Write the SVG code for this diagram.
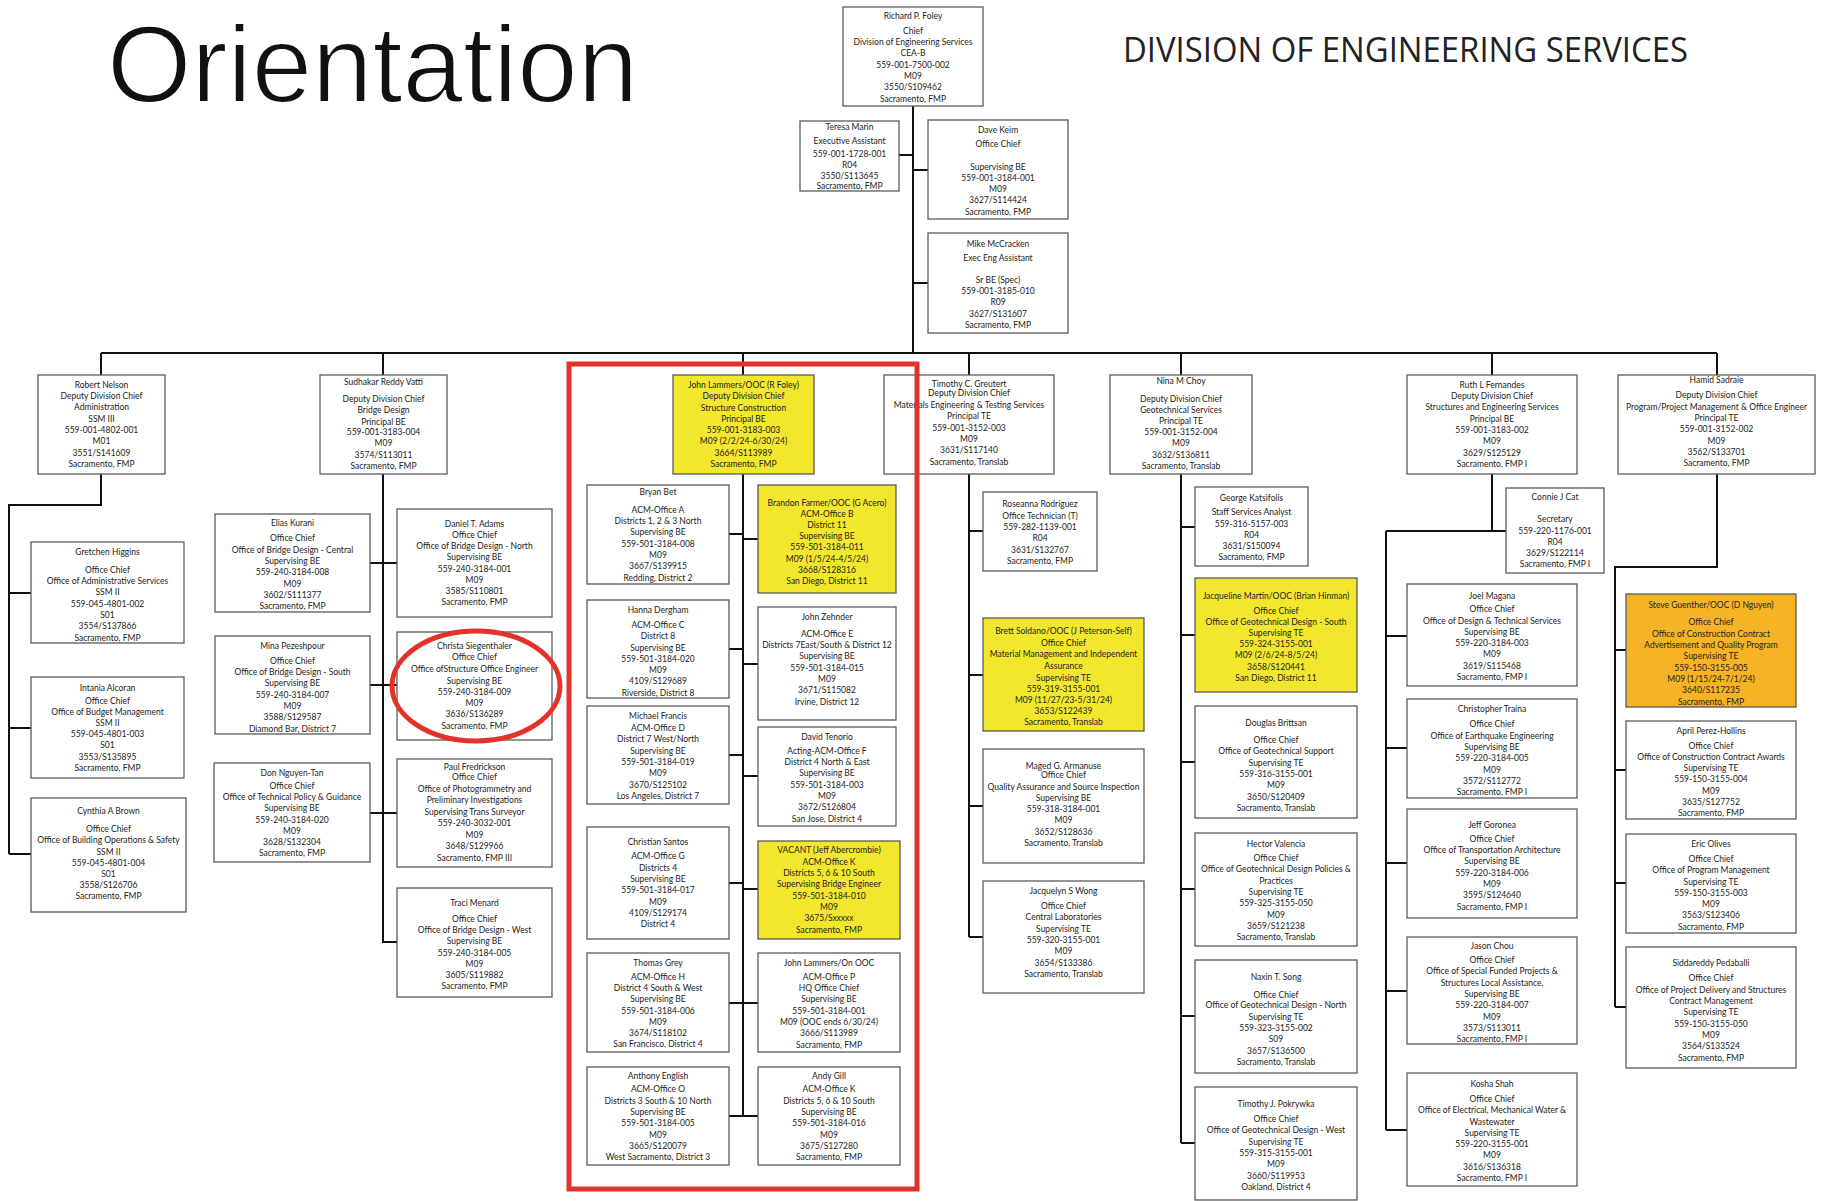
<svg xmlns="http://www.w3.org/2000/svg" width="1825" height="1201" viewBox="0 0 1825 1201">
<style>
.box{fill:#fff;stroke:#5a5a5a;stroke-width:1.3}
.y{fill:#f2e72c}
.o{fill:#f5b326}
.t{font-family:Lato,"Liberation Sans",sans-serif;font-size:8.5px;fill:#222;text-anchor:middle}
.conn{fill:none;stroke:#111;stroke-width:2}
.red{fill:none;stroke:#e3322a;stroke-width:5}
</style>
<rect width="1825" height="1201" fill="#fff"/>
<text x="107" y="102" font-family="'Liberation Sans',Arial,sans-serif" font-size="110" textLength="531" lengthAdjust="spacingAndGlyphs" fill="#111" stroke="#fff" stroke-width="2">Orientation</text>
<text x="1123" y="62" font-family="'Open Sans',Lato,sans-serif" font-size="35" textLength="565" lengthAdjust="spacingAndGlyphs" fill="#222">DIVISION OF ENGINEERING SERVICES</text>

<g id="connectors">
<path class="conn" d="M913 106V353M899 155H913M913 170H928M913 283H928M101 353H1717M101 353V375M383 353V375M743 353V375M969 353V375M1181 353V375M1492 353V375M1717 353V375
M101 474V505H9V854M9 593H31M9 728H31M9 854H31
M383 474V942H397M370 563H397M370 685H397M370 813H397
M743 474V1116M729 534H743M743 539H758M729 649H743M743 664H758M729 755H743M743 776H758M729 883H743M743 889H758M729 1003H758M729 1116H758
M969 474V937M969 531H983M969 675H983M969 806H983M969 937H983
M1181 474V1143M1181 527H1195M1181 635H1195M1181 762H1195M1181 889H1195M1181 1016H1195M1181 1143H1195
M1492 474V531M1386 531H1506M1386 531V1130M1386 636H1407M1386 748H1407M1386 863H1407M1386 991H1407M1386 1130H1407
M1717 474V567H1615V1007M1615 650H1626M1615 770H1626M1615 883H1626M1615 1007H1626"/>
</g>

<g id="n-foley"><rect class="box" x="843" y="7" width="140" height="99"/><text class="t"><tspan x="913" y="19">Richard P. Foley</tspan><tspan x="913" y="34">Chief</tspan><tspan x="913" y="45">Division of Engineering Services</tspan><tspan x="913" y="56">CEA-B</tspan><tspan x="913" y="68">559-001-7500-002</tspan><tspan x="913" y="79">M09</tspan><tspan x="913" y="90">3550/S109462</tspan><tspan x="913" y="102">Sacramento, FMP</tspan></text></g>
<g id="n-marin"><rect class="box" x="800" y="121" width="99" height="70"/><text class="t"><tspan x="849.5" y="130">Teresa Marin</tspan><tspan x="849.5" y="144">Executive Assistant</tspan><tspan x="849.5" y="157">559-001-1728-001</tspan><tspan x="849.5" y="168">R04</tspan><tspan x="849.5" y="179">3550/S113645</tspan><tspan x="849.5" y="189">Sacramento, FMP</tspan></text></g>
<g id="n-keim"><rect class="box" x="928" y="120" width="140" height="99"/><text class="t"><tspan x="998" y="133">Dave Keim</tspan><tspan x="998" y="147">Office Chief</tspan><tspan x="998" y="170">Supervising BE</tspan><tspan x="998" y="181">559-001-3184-001</tspan><tspan x="998" y="192">M09</tspan><tspan x="998" y="203">3627/S114424</tspan><tspan x="998" y="215">Sacramento, FMP</tspan></text></g>
<g id="n-mccracken"><rect class="box" x="928" y="233" width="140" height="100"/><text class="t"><tspan x="998" y="247">Mike McCracken</tspan><tspan x="998" y="261">Exec Eng Assistant</tspan><tspan x="998" y="283">Sr BE (Spec)</tspan><tspan x="998" y="294">559-001-3185-010</tspan><tspan x="998" y="305">R09</tspan><tspan x="998" y="317">3627/S131607</tspan><tspan x="998" y="328">Sacramento, FMP</tspan></text></g>

<g id="n-nelson"><rect class="box" x="38" y="375" width="127" height="99"/><text class="t"><tspan x="101.5" y="388">Robert Nelson</tspan><tspan x="101.5" y="399">Deputy Division Chief</tspan><tspan x="101.5" y="410">Administration</tspan><tspan x="101.5" y="422">SSM III</tspan><tspan x="101.5" y="433">559-001-4802-001</tspan><tspan x="101.5" y="444">M01</tspan><tspan x="101.5" y="456">3551/S141609</tspan><tspan x="101.5" y="467">Sacramento, FMP</tspan></text></g>
<g id="n-vatti"><rect class="box" x="320" y="375" width="127" height="99"/><text class="t"><tspan x="383.5" y="385">Sudhakar Reddy Vatti</tspan><tspan x="383.5" y="402">Deputy Division Chief</tspan><tspan x="383.5" y="413">Bridge Design</tspan><tspan x="383.5" y="425">Principal BE</tspan><tspan x="383.5" y="435">559-001-3183-004</tspan><tspan x="383.5" y="446">M09</tspan><tspan x="383.5" y="458">3574/S113011</tspan><tspan x="383.5" y="469">Sacramento, FMP</tspan></text></g>
<g id="n-lammers"><rect class="box y" x="673" y="375" width="141" height="99"/><text class="t"><tspan x="743.5" y="388">John Lammers/OOC (R Foley)</tspan><tspan x="743.5" y="399">Deputy Division Chief</tspan><tspan x="743.5" y="411">Structure Construction</tspan><tspan x="743.5" y="422">Principal BE</tspan><tspan x="743.5" y="433">559-001-3183-003</tspan><tspan x="743.5" y="444">M09 (2/2/24-6/30/24)</tspan><tspan x="743.5" y="456">3664/S113989</tspan><tspan x="743.5" y="467">Sacramento, FMP</tspan></text></g>
<g id="n-greutert"><rect class="box" x="884" y="375" width="170" height="99"/><text class="t"><tspan x="969" y="387">Timothy C. Greutert</tspan><tspan x="969" y="396">Deputy Division Chief</tspan><tspan x="969" y="408">Materials Engineering &amp; Testing Services</tspan><tspan x="969" y="419">Principal TE</tspan><tspan x="969" y="431">559-001-3152-003</tspan><tspan x="969" y="442">M09</tspan><tspan x="969" y="453">3631/S117140</tspan><tspan x="969" y="465">Sacramento, Translab</tspan></text></g>
<g id="n-choy"><rect class="box" x="1110" y="375" width="142" height="99"/><text class="t"><tspan x="1181" y="384">Nina M Choy</tspan><tspan x="1181" y="402">Deputy Division Chief</tspan><tspan x="1181" y="413">Geotechnical Services</tspan><tspan x="1181" y="424">Principal TE</tspan><tspan x="1181" y="435">559-001-3152-004</tspan><tspan x="1181" y="446">M09</tspan><tspan x="1181" y="458">3632/S136811</tspan><tspan x="1181" y="469">Sacramento, Translab</tspan></text></g>
<g id="n-fernandes"><rect class="box" x="1407" y="375" width="170" height="99"/><text class="t"><tspan x="1492" y="388">Ruth L Fernandes</tspan><tspan x="1492" y="399">Deputy Division Chief</tspan><tspan x="1492" y="410">Structures and Engineering Services</tspan><tspan x="1492" y="422">Principal BE</tspan><tspan x="1492" y="433">559-001-3183-002</tspan><tspan x="1492" y="444">M09</tspan><tspan x="1492" y="456">3629/S125129</tspan><tspan x="1492" y="467">Sacramento, FMP I</tspan></text></g>
<g id="n-sadraie"><rect class="box" x="1618" y="375" width="197" height="99"/><text class="t"><tspan x="1716.5" y="383">Hamid Sadraie</tspan><tspan x="1716.5" y="398">Deputy Division Chief</tspan><tspan x="1716.5" y="410">Program/Project Management &amp;  Office Engineer</tspan><tspan x="1716.5" y="421">Principal TE</tspan><tspan x="1716.5" y="432">559-001-3152-002</tspan><tspan x="1716.5" y="444">M09</tspan><tspan x="1716.5" y="455">3562/S133701</tspan><tspan x="1716.5" y="466">Sacramento, FMP</tspan></text></g>

<g id="n-higgins"><rect class="box" x="31" y="542" width="153" height="101"/><text class="t"><tspan x="107.5" y="555">Gretchen Higgins</tspan><tspan x="107.5" y="573">Office Chief</tspan><tspan x="107.5" y="584">Office of Administrative Services</tspan><tspan x="107.5" y="595">SSM II</tspan><tspan x="107.5" y="607">559-045-4801-002</tspan><tspan x="107.5" y="618">S01</tspan><tspan x="107.5" y="629">3554/S137866</tspan><tspan x="107.5" y="641">Sacramento, FMP</tspan></text></g>
<g id="n-alcoran"><rect class="box" x="31" y="677" width="153" height="101"/><text class="t"><tspan x="107.5" y="691">Intania Alcoran</tspan><tspan x="107.5" y="704">Office Chief</tspan><tspan x="107.5" y="715">Office of Budget Management</tspan><tspan x="107.5" y="726">SSM II</tspan><tspan x="107.5" y="737">559-045-4801-003</tspan><tspan x="107.5" y="748">S01</tspan><tspan x="107.5" y="760">3553/S135895</tspan><tspan x="107.5" y="771">Sacramento, FMP</tspan></text></g>
<g id="n-brown"><rect class="box" x="31" y="798" width="155" height="114"/><text class="t"><tspan x="108.5" y="814">Cynthia A Brown</tspan><tspan x="108.5" y="832">Office Chief</tspan><tspan x="108.5" y="843">Office of Building Operations &amp; Safety</tspan><tspan x="108.5" y="855">SSM II</tspan><tspan x="108.5" y="866">559-045-4801-004</tspan><tspan x="108.5" y="877">S01</tspan><tspan x="108.5" y="888">3558/S126706</tspan><tspan x="108.5" y="899">Sacramento, FMP</tspan></text></g>

<g id="n-kurani"><rect class="box" x="215" y="514" width="155" height="98"/><text class="t"><tspan x="292.5" y="526">Elias  Kurani</tspan><tspan x="292.5" y="541">Office Chief</tspan><tspan x="292.5" y="553">Office of Bridge Design - Central</tspan><tspan x="292.5" y="564">Supervising BE</tspan><tspan x="292.5" y="575">559-240-3184-008</tspan><tspan x="292.5" y="587">M09</tspan><tspan x="292.5" y="598">3602/S111377</tspan><tspan x="292.5" y="609">Sacramento, FMP</tspan></text></g>
<g id="n-pezeshpour"><rect class="box" x="215" y="636" width="155" height="98"/><text class="t"><tspan x="292.5" y="649">Mina Pezeshpour</tspan><tspan x="292.5" y="664">Office Chief</tspan><tspan x="292.5" y="675">Office of Bridge Design - South</tspan><tspan x="292.5" y="686">Supervising BE</tspan><tspan x="292.5" y="698">559-240-3184-007</tspan><tspan x="292.5" y="709">M09</tspan><tspan x="292.5" y="720">3588/S129587</tspan><tspan x="292.5" y="732">Diamond Bar, District 7</tspan></text></g>
<g id="n-nguyentan"><rect class="box" x="214" y="763" width="156" height="99"/><text class="t"><tspan x="292" y="776">Don Nguyen-Tan</tspan><tspan x="292" y="789">Office Chief</tspan><tspan x="292" y="800">Office of Technical Policy &amp; Guidance</tspan><tspan x="292" y="811">Supervising BE</tspan><tspan x="292" y="823">559-240-3184-020</tspan><tspan x="292" y="834">M09</tspan><tspan x="292" y="845">3628/S132304</tspan><tspan x="292" y="856">Sacramento, FMP</tspan></text></g>
<g id="n-adams"><rect class="box" x="397" y="509" width="155" height="108"/><text class="t"><tspan x="474.5" y="527">Daniel T. Adams</tspan><tspan x="474.5" y="538">Office Chief</tspan><tspan x="474.5" y="549">Office of Bridge Design - North</tspan><tspan x="474.5" y="560">Supervising BE</tspan><tspan x="474.5" y="572">559-240-3184-001</tspan><tspan x="474.5" y="583">M09</tspan><tspan x="474.5" y="594">3585/S110801</tspan><tspan x="474.5" y="605">Sacramento, FMP</tspan></text></g>
<g id="n-siegenthaler"><rect class="box" x="397" y="632" width="155" height="108"/><text class="t"><tspan x="474.5" y="649">Christa Siegenthaler</tspan><tspan x="474.5" y="660">Office Chief</tspan><tspan x="474.5" y="672">Office ofStructure Office Engineer</tspan><tspan x="474.5" y="684">Supervising BE</tspan><tspan x="474.5" y="695">559-240-3184-009</tspan><tspan x="474.5" y="706">M09</tspan><tspan x="474.5" y="717">3636/S136289</tspan><tspan x="474.5" y="729">Sacramento, FMP</tspan></text></g>
<g id="n-fredrickson"><rect class="box" x="397" y="759" width="155" height="108"/><text class="t"><tspan x="474.5" y="770">Paul Fredrickson</tspan><tspan x="474.5" y="780">Office Chief</tspan><tspan x="474.5" y="792">Office of Photogrammetry and</tspan><tspan x="474.5" y="803">Preliminary Investigations</tspan><tspan x="474.5" y="815">Supervising Trans Surveyor</tspan><tspan x="474.5" y="826">559-240-3032-001</tspan><tspan x="474.5" y="838">M09</tspan><tspan x="474.5" y="849">3648/S129966</tspan><tspan x="474.5" y="861">Sacramento, FMP III</tspan></text></g>
<g id="n-menard"><rect class="box" x="397" y="888" width="155" height="109"/><text class="t"><tspan x="474.5" y="906">Traci Menard</tspan><tspan x="474.5" y="922">Office Chief</tspan><tspan x="474.5" y="933">Office of Bridge Design - West</tspan><tspan x="474.5" y="944">Supervising BE</tspan><tspan x="474.5" y="956">559-240-3184-005</tspan><tspan x="474.5" y="967">M09</tspan><tspan x="474.5" y="978">3605/S119882</tspan><tspan x="474.5" y="989">Sacramento, FMP</tspan></text></g>

<g id="n-bet"><rect class="box" x="587" y="485" width="142" height="99"/><text class="t"><tspan x="658" y="495">Bryan Bet</tspan><tspan x="658" y="513">ACM-Office A</tspan><tspan x="658" y="524">Districts 1, 2 &amp; 3 North</tspan><tspan x="658" y="535">Supervising BE</tspan><tspan x="658" y="547">559-501-3184-008</tspan><tspan x="658" y="558">M09</tspan><tspan x="658" y="569">3667/S139915</tspan><tspan x="658" y="581">Redding, District 2</tspan></text></g>
<g id="n-farmer"><rect class="box y" x="758" y="485" width="138" height="108"/><text class="t"><tspan x="827" y="506">Brandon Farmer/OOC (G Acero)</tspan><tspan x="827" y="517">ACM-Office B</tspan><tspan x="827" y="528">District 11</tspan><tspan x="827" y="539">Supervising BE</tspan><tspan x="827" y="550">559-501-3184-011</tspan><tspan x="827" y="562">M09 (1/5/24-4/5/24)</tspan><tspan x="827" y="573">3668/S128316</tspan><tspan x="827" y="584">San Diego, District 11</tspan></text></g>
<g id="n-dergham"><rect class="box" x="587" y="600" width="142" height="98"/><text class="t"><tspan x="658" y="613">Hanna Dergham</tspan><tspan x="658" y="628">ACM-Office C</tspan><tspan x="658" y="639">District 8</tspan><tspan x="658" y="651">Supervising BE</tspan><tspan x="658" y="662">559-501-3184-020</tspan><tspan x="658" y="673">M09</tspan><tspan x="658" y="684">4109/S129689</tspan><tspan x="658" y="696">Riverside, District 8</tspan></text></g>
<g id="n-zehnder"><rect class="box" x="758" y="607" width="138" height="113"/><text class="t"><tspan x="827" y="620">John Zehnder</tspan><tspan x="827" y="637">ACM-Office E</tspan><tspan x="827" y="648">Districts 7East/South &amp; District 12</tspan><tspan x="827" y="659">Supervising BE</tspan><tspan x="827" y="671">559-501-3184-015</tspan><tspan x="827" y="682">M09</tspan><tspan x="827" y="693">3671/S115082</tspan><tspan x="827" y="705">Irvine, District 12</tspan></text></g>
<g id="n-francis"><rect class="box" x="587" y="706" width="142" height="98"/><text class="t"><tspan x="658" y="719">Michael Francis</tspan><tspan x="658" y="731">ACM-Office D</tspan><tspan x="658" y="742">District 7 West/North</tspan><tspan x="658" y="754">Supervising BE</tspan><tspan x="658" y="765">559-501-3184-019</tspan><tspan x="658" y="776">M09</tspan><tspan x="658" y="788">3670/S125102</tspan><tspan x="658" y="799">Los Angeles, District 7</tspan></text></g>
<g id="n-tenorio"><rect class="box" x="758" y="727" width="138" height="99"/><text class="t"><tspan x="827" y="740">David Tenorio</tspan><tspan x="827" y="754">Acting-ACM-Office F</tspan><tspan x="827" y="765">District 4 North &amp; East</tspan><tspan x="827" y="776">Supervising BE</tspan><tspan x="827" y="788">559-501-3184-003</tspan><tspan x="827" y="799">M09</tspan><tspan x="827" y="810">3672/S126804</tspan><tspan x="827" y="822">San Jose, District 4</tspan></text></g>
<g id="n-santos"><rect class="box" x="587" y="827" width="142" height="112"/><text class="t"><tspan x="658" y="845">Christian Santos</tspan><tspan x="658" y="859">ACM-Office G</tspan><tspan x="658" y="871">Districts 4</tspan><tspan x="658" y="882">Supervising BE</tspan><tspan x="658" y="893">559-501-3184-017</tspan><tspan x="658" y="905">M09</tspan><tspan x="658" y="916">4109/S129174</tspan><tspan x="658" y="927">District 4</tspan></text></g>
<g id="n-vacant"><rect class="box y" x="758" y="841" width="142" height="98"/><text class="t"><tspan x="829" y="853">VACANT (Jeff Abercrombie)</tspan><tspan x="829" y="865">ACM-Office K</tspan><tspan x="829" y="876">Districts 5, 6 &amp; 10 South</tspan><tspan x="829" y="887">Supervising Bridge Engineer</tspan><tspan x="829" y="899">559-501-3184-010</tspan><tspan x="829" y="910">M09</tspan><tspan x="829" y="921">3675/Sxxxxx</tspan><tspan x="829" y="933">Sacramento, FMP</tspan></text></g>
<g id="n-grey"><rect class="box" x="587" y="953" width="142" height="99"/><text class="t"><tspan x="658" y="966">Thomas Grey</tspan><tspan x="658" y="980">ACM-Office H</tspan><tspan x="658" y="991">District 4 South &amp; West</tspan><tspan x="658" y="1002">Supervising BE</tspan><tspan x="658" y="1014">559-501-3184-006</tspan><tspan x="658" y="1025">M09</tspan><tspan x="658" y="1036">3674/S118102</tspan><tspan x="658" y="1047">San Francisco, District 4</tspan></text></g>
<g id="n-lammers-p"><rect class="box" x="758" y="953" width="142" height="99"/><text class="t"><tspan x="829" y="966">John Lammers/On OOC</tspan><tspan x="829" y="980">ACM-Office P</tspan><tspan x="829" y="991">HQ Office Chief</tspan><tspan x="829" y="1002">Supervising BE</tspan><tspan x="829" y="1014">559-501-3184-001</tspan><tspan x="829" y="1025">M09 (OOC ends 6/30/24)</tspan><tspan x="829" y="1036">3666/S113989</tspan><tspan x="829" y="1048">Sacramento, FMP</tspan></text></g>
<g id="n-english"><rect class="box" x="587" y="1067" width="142" height="98"/><text class="t"><tspan x="658" y="1079">Anthony English</tspan><tspan x="658" y="1092">ACM-Office O</tspan><tspan x="658" y="1104">Districts 3 South &amp; 10 North</tspan><tspan x="658" y="1115">Supervising BE</tspan><tspan x="658" y="1126">559-501-3184-005</tspan><tspan x="658" y="1138">M09</tspan><tspan x="658" y="1149">3665/S120079</tspan><tspan x="658" y="1160">West Sacramento, District 3</tspan></text></g>
<g id="n-gill"><rect class="box" x="758" y="1067" width="142" height="98"/><text class="t"><tspan x="829" y="1079">Andy Gill</tspan><tspan x="829" y="1092">ACM-Office K</tspan><tspan x="829" y="1104">Districts 5, 6 &amp; 10 South</tspan><tspan x="829" y="1115">Supervising BE</tspan><tspan x="829" y="1126">559-501-3184-016</tspan><tspan x="829" y="1138">M09</tspan><tspan x="829" y="1149">3675/S127280</tspan><tspan x="829" y="1160">Sacramento, FMP</tspan></text></g>

<g id="n-rodriguez"><rect class="box" x="983" y="492" width="114" height="79"/><text class="t"><tspan x="1040" y="507">Roseanna Rodriguez</tspan><tspan x="1040" y="519">Office Technician (T)</tspan><tspan x="1040" y="530">559-282-1139-001</tspan><tspan x="1040" y="541">R04</tspan><tspan x="1040" y="553">3631/S132767</tspan><tspan x="1040" y="564">Sacramento, FMP</tspan></text></g>
<g id="n-soldano"><rect class="box y" x="983" y="618" width="161" height="113"/><text class="t"><tspan x="1063.5" y="634">Brett Soldano/OOC (J Peterson-Self)</tspan><tspan x="1063.5" y="646">Office Chief</tspan><tspan x="1063.5" y="657">Material Management and Independent</tspan><tspan x="1063.5" y="669">Assurance</tspan><tspan x="1063.5" y="681">Supervising TE</tspan><tspan x="1063.5" y="692">559-319-3155-001</tspan><tspan x="1063.5" y="703">M09 (11/27/23-5/31/24)</tspan><tspan x="1063.5" y="714">3653/S122439</tspan><tspan x="1063.5" y="725">Sacramento, Translab</tspan></text></g>
<g id="n-armanuse"><rect class="box" x="983" y="749" width="161" height="114"/><text class="t"><tspan x="1063.5" y="769">Maged G. Armanuse</tspan><tspan x="1063.5" y="778">Office Chief</tspan><tspan x="1063.5" y="790">Quality Assurance and Source Inspection</tspan><tspan x="1063.5" y="801">Supervising BE</tspan><tspan x="1063.5" y="812">559-318-3184-001</tspan><tspan x="1063.5" y="823">M09</tspan><tspan x="1063.5" y="835">3652/S128636</tspan><tspan x="1063.5" y="846">Sacramento, Translab</tspan></text></g>
<g id="n-wong"><rect class="box" x="983" y="881" width="161" height="112"/><text class="t"><tspan x="1063.5" y="894">Jacquelyn S Wong</tspan><tspan x="1063.5" y="909">Office Chief</tspan><tspan x="1063.5" y="920">Central Laboratories</tspan><tspan x="1063.5" y="932">Supervising TE</tspan><tspan x="1063.5" y="943">559-320-3155-001</tspan><tspan x="1063.5" y="954">M09</tspan><tspan x="1063.5" y="966">3654/S133386</tspan><tspan x="1063.5" y="977">Sacramento, Translab</tspan></text></g>

<g id="n-katsifolis"><rect class="box" x="1195" y="487" width="113" height="79"/><text class="t"><tspan x="1251.5" y="501">George Katsifolis</tspan><tspan x="1251.5" y="515">Staff Services Analyst</tspan><tspan x="1251.5" y="527">559-316-5157-003</tspan><tspan x="1251.5" y="538">R04</tspan><tspan x="1251.5" y="549">3631/S150094</tspan><tspan x="1251.5" y="560">Sacramento, FMP</tspan></text></g>
<g id="n-martin"><rect class="box y" x="1195" y="578" width="162" height="114"/><text class="t"><tspan x="1276" y="599">Jacqueline Martin/OOC (Brian Hinman)</tspan><tspan x="1276" y="614">Office Chief</tspan><tspan x="1276" y="625">Office of Geotechnical Design - South</tspan><tspan x="1276" y="636">Supervising TE</tspan><tspan x="1276" y="647">559-324-3155-001</tspan><tspan x="1276" y="658">M09 (2/6/24-8/5/24)</tspan><tspan x="1276" y="670">3658/S120441</tspan><tspan x="1276" y="681">San Diego, District 11</tspan></text></g>
<g id="n-brittsan"><rect class="box" x="1195" y="706" width="162" height="112"/><text class="t"><tspan x="1276" y="726">Douglas Brittsan</tspan><tspan x="1276" y="743">Office Chief</tspan><tspan x="1276" y="754">Office of Geotechnical Support</tspan><tspan x="1276" y="766">Supervising TE</tspan><tspan x="1276" y="777">559-316-3155-001</tspan><tspan x="1276" y="788">M09</tspan><tspan x="1276" y="800">3650/S120409</tspan><tspan x="1276" y="811">Sacramento, Translab</tspan></text></g>
<g id="n-valencia"><rect class="box" x="1195" y="833" width="162" height="113"/><text class="t"><tspan x="1276" y="847">Hector Valencia</tspan><tspan x="1276" y="861">Office Chief</tspan><tspan x="1276" y="872">Office of Geotechnical Design Policies &amp;</tspan><tspan x="1276" y="884">Practices</tspan><tspan x="1276" y="895">Supervising TE</tspan><tspan x="1276" y="906">559-325-3155-050</tspan><tspan x="1276" y="918">M09</tspan><tspan x="1276" y="929">3659/S121238</tspan><tspan x="1276" y="940">Sacramento, Translab</tspan></text></g>
<g id="n-song"><rect class="box" x="1195" y="960" width="162" height="113"/><text class="t"><tspan x="1276" y="980">Naxin T. Song</tspan><tspan x="1276" y="998">Office Chief</tspan><tspan x="1276" y="1008">Office of Geotechnical Design - North</tspan><tspan x="1276" y="1020">Supervising TE</tspan><tspan x="1276" y="1031">559-323-3155-002</tspan><tspan x="1276" y="1042">S09</tspan><tspan x="1276" y="1054">3657/S136500</tspan><tspan x="1276" y="1065">Sacramento, Translab</tspan></text></g>
<g id="n-pokrywka"><rect class="box" x="1195" y="1087" width="162" height="113"/><text class="t"><tspan x="1276" y="1107">Timothy J. Pokrywka</tspan><tspan x="1276" y="1122">Office Chief</tspan><tspan x="1276" y="1133">Office of Geotechnical Design - West</tspan><tspan x="1276" y="1145">Supervising TE</tspan><tspan x="1276" y="1156">559-315-3155-001</tspan><tspan x="1276" y="1167">M09</tspan><tspan x="1276" y="1179">3660/S119953</tspan><tspan x="1276" y="1190">Oakland, District 4</tspan></text></g>

<g id="n-cat"><rect class="box" x="1506" y="488" width="98" height="85"/><text class="t"><tspan x="1555" y="500">Connie J Cat</tspan><tspan x="1555" y="522">Secretary</tspan><tspan x="1555" y="534">559-220-1176-001</tspan><tspan x="1555" y="545">R04</tspan><tspan x="1555" y="556">3629/S122114</tspan><tspan x="1555" y="567">Sacramento, FMP I</tspan></text></g>
<g id="n-magana"><rect class="box" x="1407" y="584" width="170" height="102"/><text class="t"><tspan x="1492" y="599">Joel Magana</tspan><tspan x="1492" y="612">Office Chief</tspan><tspan x="1492" y="624">Office of Design &amp; Technical Services</tspan><tspan x="1492" y="635">Supervising BE</tspan><tspan x="1492" y="646">559-220-3184-003</tspan><tspan x="1492" y="657">M09</tspan><tspan x="1492" y="669">3619/S115468</tspan><tspan x="1492" y="680">Sacramento, FMP I</tspan></text></g>
<g id="n-traina"><rect class="box" x="1407" y="699" width="170" height="99"/><text class="t"><tspan x="1492" y="712">Christopher Traina</tspan><tspan x="1492" y="727">Office Chief</tspan><tspan x="1492" y="739">Office of Earthquake Engineering</tspan><tspan x="1492" y="750">Supervising BE</tspan><tspan x="1492" y="761">559-220-3184-005</tspan><tspan x="1492" y="773">M09</tspan><tspan x="1492" y="784">3572/S112772</tspan><tspan x="1492" y="795">Sacramento, FMP I</tspan></text></g>
<g id="n-goronea"><rect class="box" x="1407" y="809" width="170" height="109"/><text class="t"><tspan x="1492" y="828">Jeff Goronea</tspan><tspan x="1492" y="842">Office Chief</tspan><tspan x="1492" y="853">Office of Transportation Architecture</tspan><tspan x="1492" y="864">Supervising BE</tspan><tspan x="1492" y="876">559-220-3184-006</tspan><tspan x="1492" y="887">M09</tspan><tspan x="1492" y="898">3595/S124640</tspan><tspan x="1492" y="910">Sacramento, FMP I</tspan></text></g>
<g id="n-chou"><rect class="box" x="1407" y="937" width="170" height="107"/><text class="t"><tspan x="1492" y="949">Jason Chou</tspan><tspan x="1492" y="963">Office Chief</tspan><tspan x="1492" y="974">Office of Special Funded Projects &amp;</tspan><tspan x="1492" y="986">Structures Local Assistance,</tspan><tspan x="1492" y="997">Supervising BE</tspan><tspan x="1492" y="1008">559-220-3184-007</tspan><tspan x="1492" y="1020">M09</tspan><tspan x="1492" y="1031">3573/S113011</tspan><tspan x="1492" y="1042">Sacramento, FMP I</tspan></text></g>
<g id="n-shah"><rect class="box" x="1407" y="1073" width="170" height="113"/><text class="t"><tspan x="1492" y="1087">Kosha Shah</tspan><tspan x="1492" y="1102">Office Chief</tspan><tspan x="1492" y="1113">Office of Electrical, Mechanical Water &amp;</tspan><tspan x="1492" y="1125">Wastewater</tspan><tspan x="1492" y="1136">Supervising TE</tspan><tspan x="1492" y="1147">559-220-3155-001</tspan><tspan x="1492" y="1158">M09</tspan><tspan x="1492" y="1170">3616/S136318</tspan><tspan x="1492" y="1181">Sacramento, FMP I</tspan></text></g>

<g id="n-guenther"><rect class="box o" x="1626" y="594" width="170" height="113"/><text class="t"><tspan x="1711" y="608">Steve Guenther/OOC (D Nguyen)</tspan><tspan x="1711" y="625">Office Chief</tspan><tspan x="1711" y="637">Office of Construction Contract</tspan><tspan x="1711" y="648">Advertisement and Quality Program</tspan><tspan x="1711" y="659">Supervising TE</tspan><tspan x="1711" y="671">559-150-3155-005</tspan><tspan x="1711" y="682">M09 (1/15/24-7/1/24)</tspan><tspan x="1711" y="693">3640/S117235</tspan><tspan x="1711" y="705">Sacramento, FMP</tspan></text></g>
<g id="n-perezhollins"><rect class="box" x="1626" y="721" width="170" height="98"/><text class="t"><tspan x="1711" y="734">April Perez-Hollins</tspan><tspan x="1711" y="749">Office Chief</tspan><tspan x="1711" y="760">Office of Construction Contract Awards</tspan><tspan x="1711" y="771">Supervising TE</tspan><tspan x="1711" y="782">559-150-3155-004</tspan><tspan x="1711" y="794">M09</tspan><tspan x="1711" y="805">3635/S127752</tspan><tspan x="1711" y="816">Sacramento, FMP</tspan></text></g>
<g id="n-olives"><rect class="box" x="1626" y="834" width="170" height="99"/><text class="t"><tspan x="1711" y="847">Eric Olives</tspan><tspan x="1711" y="862">Office Chief</tspan><tspan x="1711" y="873">Office of Program Management</tspan><tspan x="1711" y="885">Supervising TE</tspan><tspan x="1711" y="896">559-150-3155-003</tspan><tspan x="1711" y="907">M09</tspan><tspan x="1711" y="918">3563/S123406</tspan><tspan x="1711" y="930">Sacramento, FMP</tspan></text></g>
<g id="n-pedaballi"><rect class="box" x="1626" y="947" width="170" height="121"/><text class="t"><tspan x="1711" y="966">Siddareddy Pedaballi</tspan><tspan x="1711" y="981">Office Chief</tspan><tspan x="1711" y="993">Office of Project Delivery and Structures</tspan><tspan x="1711" y="1004">Contract Management</tspan><tspan x="1711" y="1015">Supervising TE</tspan><tspan x="1711" y="1027">559-150-3155-050</tspan><tspan x="1711" y="1038">M09</tspan><tspan x="1711" y="1049">3564/S133524</tspan><tspan x="1711" y="1061">Sacramento, FMP</tspan></text></g>

<g id="annotations">
<rect class="red" x="569" y="364" width="348" height="825"/>
<ellipse class="red" cx="476" cy="686" rx="84" ry="55"/>
</g>
</svg>
